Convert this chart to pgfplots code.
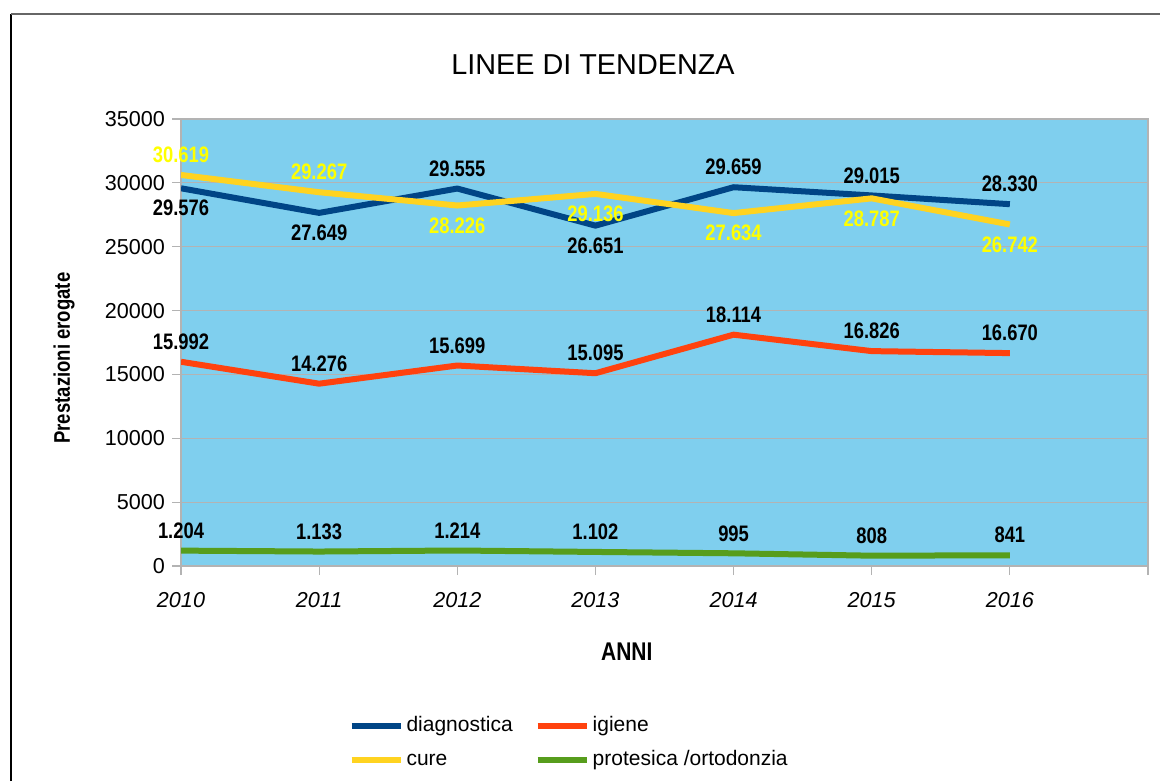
\documentclass[border=0pt]{standalone}
\usepackage{pgfplots}
\pgfplotsset{compat=1.18}
\usepackage{pgfplotstable}
\usepackage{fontspec}
\setmainfont{Liberation Sans}
\newfontfamily\narrow[FakeStretch=0.82]{Liberation Sans}

\definecolor{bgblue}{RGB}{127,207,238}
\definecolor{cdiag}{HTML}{004586}
\definecolor{cigi}{HTML}{FF420E}
\definecolor{ccure}{HTML}{FFD320}
\definecolor{cprot}{HTML}{579D1C}
\definecolor{gridc}{HTML}{B3B3B3}
\definecolor{lblyellow}{HTML}{FFFF00}

\pgfplotstableread{
x y s
0 29576 -1
1 27649 -1
2 29555 1
3 26651 -1
4 29659 1
5 29015 1
6 28330 1
}\diag
\pgfplotstableread{
x y s
0 15992 1
1 14276 1
2 15699 1
3 15095 1
4 18114 1
5 16826 1
6 16670 1
}\igiene
\pgfplotstableread{
x y s
0 30619 1
1 29267 1
2 28226 -1
3 29136 -1
4 27634 -1
5 28787 -1
6 26742 -1
}\cure
\pgfplotstableread{
x y s
0 1204 1
1 1133 1
2 1214 1
3 1102 1
4 995 1
5 808 1
6 841 1
}\protesica

\begin{document}
\begin{tikzpicture}
\begin{scope}[x=0.5pt,y=-0.5pt]
\draw[black, line width=0.6pt] (11,781) -- (11,14);
\draw[black!60, line width=0.6pt] (11,14) -- (1160,14);
\node[font=\fontsize{14.4}{16}\selectfont] at (593,65) {LINEE DI TENDENZA};
\end{scope}
\begin{axis}[
  at={(90.5pt,-283pt)}, anchor=south west,
  scale only axis, width=483.5pt, height=223.5pt,
  xmin=0, xmax=7, ymin=0, ymax=35000,
  xtick={0,1,2,3,4,5,6,7},
  xticklabels={2010,2011,2012,2013,2014,2015,2016,{}},
  ytick={0,5000,...,35000},
  scaled y ticks=false,
  tick pos=left,
  tick align=outside, major tick length=4.5pt,
  tick style={gridc, line width=0.6pt},
  axis line style={gridc, line width=0.6pt},
  ymajorgrids, grid style={gridc, line width=0.6pt},
  axis background/.style={fill=bgblue},
  /pgf/number format/assume math mode=true,
  /pgf/number format/fixed, /pgf/number format/precision=0,
  yticklabel style={font=\fontsize{10.8}{12}\selectfont, /pgf/number format/1000 sep={}},
  xticklabel style={font=\fontsize{10.8}{12}\selectfont\itshape, yshift=-5pt},
  xlabel={ANNI},
  xlabel style={at={(axis description cs:0.461,-0.192)}, anchor=center, font=\narrow\bfseries\fontsize{12.8}{14}\selectfont},
  ylabel={Prestazioni erogate},
  ylabel style={at={(axis description cs:-0.121,0.465)}, anchor=center, font=\narrow\bfseries\fontsize{11.3}{12}\selectfont},
  nodes near coords,
  visualization depends on={\thisrow{s} \as \shift},
  every node near coord/.append style={font=\narrow\bfseries\fontsize{11.2}{12}\selectfont, anchor=center, yshift=\shift*10pt, /pgf/number format/1000 sep={.}, text=black},
  legend columns=2,
  legend cell align=left,
  legend image code/.code={\draw[line width=3pt] (0pt,0pt) -- (24.5pt,0pt);},
  legend style={draw=none, fill=none, at={(axis description cs:0.1728,-0.396)}, anchor=west, inner sep=0pt,
    font=\fontsize{10.5}{12}\selectfont,
    nodes={inner sep=0pt, text height=7.6pt, text depth=2.2pt, anchor=west},
    row sep=7.5pt,
    /tikz/every odd column/.append style={column sep=1.5pt},
    /tikz/every even column/.append style={column sep=11pt}},
]
\addplot[cdiag, line width=3pt, mark=none, line join=round] table[x=x,y=y] {\diag};
\addlegendentry{diagnostica}
\addplot[cigi, line width=3pt, mark=none, line join=round] table[x=x,y=y] {\igiene};
\addlegendentry{igiene}
\addplot[ccure, line width=3pt, mark=none, line join=round, every node near coord/.append style={text=lblyellow}] table[x=x,y=y] {\cure};
\addlegendentry{cure}
\addplot[cprot, line width=3pt, mark=none, line join=round] table[x=x,y=y] {\protesica};
\addlegendentry{protesica /ortodonzia}
\end{axis}
\pgfresetboundingbox
\path[use as bounding box] (0,0) rectangle (580pt,-390.5pt);
\end{tikzpicture}
\end{document}
